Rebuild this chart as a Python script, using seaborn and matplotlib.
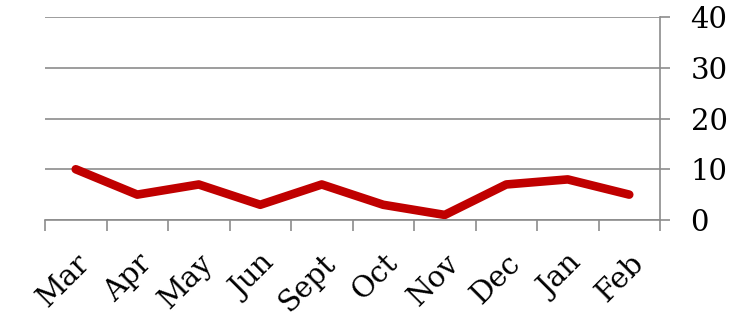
import matplotlib
matplotlib.use("Agg")
import matplotlib.pyplot as plt
import seaborn as sns
import pandas as pd
import numpy as np

months = ["Mar", "Apr", "May", "Jun", "Sept", "Oct", "Nov", "Dec", "Jan", "Feb"]
values = [10, 5, 7, 3, 7, 3, 1, 7, 8, 5]
y_ticks = [0, 10, 20, 30, 40]

sns.set_theme(style="white")
plt.rcParams["font.family"] = ["DejaVu Serif"]

df = pd.DataFrame({"month": months, "value": values})

fig = plt.figure(figsize=(7.48, 3.17), dpi=100)
ax = fig.add_axes([45/748, (317-220)/317, (660-45)/748, (220-17)/317])

grid_c = "#8c8c8c"
sns.lineplot(data=df, x="month", y="value", sort=False, ax=ax,
             color="#C00000", linewidth=6.2, solid_capstyle="round",
             solid_joinstyle="round")

ax.set_xlim(-0.5, len(months) - 0.5)
ax.set_ylim(0, 40)
ax.set_xlabel("")
ax.set_ylabel("")

ax.yaxis.tick_right()
ax.set_yticks(y_ticks)
ax.set_yticklabels([str(v) for v in y_ticks], fontsize=21, color="black")
ax.tick_params(axis="y", which="major", length=7, width=1.2, color=grid_c,
               pad=15, right=True, left=False, labelcolor="black")
ax.grid(axis="y", color=grid_c, linewidth=1.2)
ax.set_axisbelow(True)

ax.set_xticks(range(len(months)))
ax.set_xticklabels(months, rotation=45, ha="right", rotation_mode="anchor",
                   fontsize=21, color="black")
ax.set_xticks(np.arange(-0.5, len(months), 1.0), minor=True)
ax.tick_params(axis="x", which="major", length=0, pad=21, labelcolor="black")
ax.tick_params(axis="x", which="minor", length=8, width=1.2, color=grid_c,
               bottom=True)

for s in ["top", "left"]:
    ax.spines[s].set_visible(False)
for s in ["right", "bottom"]:
    ax.spines[s].set_color(grid_c)
    ax.spines[s].set_linewidth(1.2)

fig.savefig("out.png", dpi=100)
